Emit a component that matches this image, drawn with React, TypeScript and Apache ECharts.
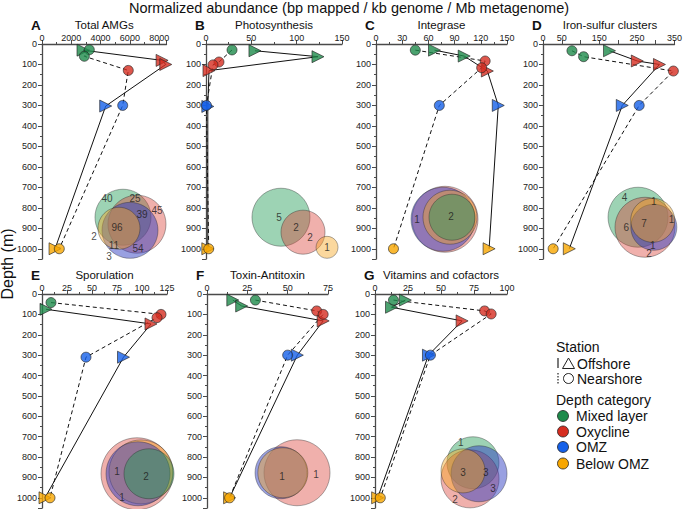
import React, { useEffect, useRef } from 'react';
import * as echarts from 'echarts';

const FONT = '"Liberation Sans", Arial, Helvetica, sans-serif';

// ---------- data ----------
const categories = ['Mixed layer', 'Oxycline', 'OMZ', 'Below OMZ'];
const catColors = ['#1e8b4b', '#d62d20', '#1560e8', '#f7a600'];
const vennColors = ['rgba(31,154,85,0.55)', 'rgba(217,58,48,0.5)', 'rgba(42,56,192,0.6)', 'rgba(245,166,35,0.55)'];

const panelLetters = ['A', 'B', 'C', 'D', 'E', 'F', 'G'];
const panelTitles = ['Total AMGs', 'Photosynthesis', 'Integrase', 'Iron-sulfur clusters', 'Sporulation', 'Toxin-Antitoxin', 'Vitamins and cofactors'];
const axisMax = [8500, 150, 150, 350, 125, 75, 100];
const axisStep = [2000, 50, 30, 50, 25, 25, 25];
const axisLabelsShown = [
  [0, 2000, 4000, 6000, 8000],
  [0, 50, 100, 150],
  [0, 30, 60, 90, 120, 150],
  [0, 50, 150, 250, 350],
  [0, 25, 50, 75, 100, 125],
  [0, 25, 50, 75],
  [0, 25, 50, 75, 100],
];
const depthMax = 1050;
const depthLabels = [0, 100, 200, 300, 400, 500, 600, 700, 800, 900, 1000];

// [value, depth, category]
const offA = [[2800, 30, 0], [8200, 80, 1], [8450, 100, 1], [4350, 303, 2], [890, 1000, 3]];
const nearA = [[3230, 28, 0], [2890, 60, 0], [5890, 129, 1], [5510, 300, 2], [1180, 1000, 3]];
const offB = [[54, 33, 0], [123.5, 62, 0], [3.3, 130, 1], [2, 305, 2], [2, 1000, 3]];
const nearB = [[28.7, 29, 0], [14.3, 88, 1], [7.7, 102, 1], [0.5, 300, 2], [3, 1000, 3]];
const offC = [[67, 30, 0], [101, 59, 0], [127.5, 132, 1], [140, 300, 2], [129.5, 1000, 3]];
const nearC = [[45, 30, 0], [125, 83, 1], [121, 116, 1], [72.5, 300, 2], [20, 1000, 3]];
const offD = [[177, 33, 0], [251, 83, 1], [310, 100, 1], [211, 300, 2], [70, 1000, 3]];
const nearD = [[77, 33, 0], [108, 62, 0], [347, 132, 1], [256, 300, 2], [27, 1000, 3]];
const offE = [[4, 75, 0], [109, 147, 1], [81.5, 310, 2], [3, 1000, 3]];
const nearE = [[9, 42, 0], [119, 100, 1], [115, 116, 1], [44, 310, 2], [8, 1000, 3]];
const offF = [[16, 30, 0], [21.5, 59, 0], [72, 132, 1], [56, 300, 2], [14, 1000, 3]];
const nearF = [[30, 30, 0], [68, 83, 1], [72, 100, 1], [50, 300, 2], [14, 1000, 3]];
const offG = [[23, 30, 0], [12.5, 65, 0], [66, 132, 1], [40.5, 300, 2], [2, 1000, 3]];
const nearG = [[14, 30, 0], [83, 83, 1], [88, 98, 1], [42, 300, 2], [4, 1000, 3]];

// Venn circles: [x, depth, radius(px), category]
const vennA = [[5530, 846, 28, 0], [6485, 880, 29, 1], [6007, 910, 28, 2], [5256, 900, 21, 3]];
const vennLabelsA = [[4437, 753, '40'], [6348, 753, '25'], [7850, 812, '45'], [6826, 831, '39'], [5119, 895, '96'], [3549, 939, '2'], [4915, 983, '11'], [6553, 998, '54'], [4573, 1037, '3']];
const vennB = [[82.7, 846, 29, 0], [107, 919, 22, 1], [133.5, 993, 11, 3]];
const vennLabelsB = [[80.5, 846, '5'], [99.3, 895, '2'], [114.7, 944, '2'], [133.5, 993, '1']];
const vennC = [[79, 856, 33, 1], [76.7, 856, 32, 2], [84.7, 846, 27, 3], [87, 846, 23, 0]];
const vennLabelsC = [[47, 856, '1'], [86, 841, '2']];
const vennD = [[253, 846, 30, 0], [271.5, 895, 30, 1], [295, 895, 23, 2], [292, 861, 22, 3]];
const vennLabelsD = [[217, 748, '4'], [295, 768, '1'], [222, 895, '6'], [269, 875, '7'], [342, 856, '1'], [292, 983, '1'], [282, 1022, '2']];
const vennE = [[95, 882, 36, 1], [99, 873, 32, 3], [96, 882, 32, 2], [107, 882, 25, 0]];
const vennLabelsE = [[75, 873, '1'], [104, 897, '2'], [80, 1000, '1']];
const vennF = [[55.8, 877, 33, 1], [45.9, 877, 26, 2], [47, 877, 25, 3]];
const vennLabelsF = [[46.5, 897, '1'], [67.6, 887, '1']];
const vennG = [[74.2, 828, 26, 0], [72, 907, 29, 1], [78.8, 882, 28, 2], [66.7, 868, 22, 3]];
const vennLabelsG = [[65, 730, '1'], [66.7, 877, '3'], [84, 877, '3'], [89.4, 956, '3'], [60.6, 1010, '2']];

const offshore = [offA, offB, offC, offD, offE, offF, offG];
const nearshore = [nearA, nearB, nearC, nearD, nearE, nearF, nearG];
const venns = [vennA, vennB, vennC, vennD, vennE, vennF, vennG];
const vennLabels = [vennLabelsA, vennLabelsB, vennLabelsC, vennLabelsD, vennLabelsE, vennLabelsF, vennLabelsG];

// ---------- layout ----------
const gridLayout = [
  { left: 42, top: 44, width: 124.5, height: 215 },
  { left: 206, top: 44, width: 136, height: 215 },
  { left: 376, top: 44, width: 131, height: 215 },
  { left: 543, top: 44, width: 134, height: 215 },
  { left: 42, top: 294, width: 125, height: 214 },
  { left: 207, top: 294, width: 121, height: 214 },
  { left: 375, top: 294, width: 132, height: 214 },
];

const AX = '#4a4a4a';

function buildOption() {
  const grid = gridLayout.map((g) => ({ ...g, containLabel: false }));
  const xAxis = gridLayout.map((_, i) => ({
    gridIndex: i,
    type: 'value',
    position: 'top',
    min: 0,
    max: axisMax[i],
    interval: axisStep[i],
    axisLine: { show: true, onZero: false, lineStyle: { color: AX, width: 1.3 } },
    axisTick: { show: true, length: 4, lineStyle: { color: AX, width: 1 } },
    minorTick: { show: i !== 3, splitNumber: 2, length: 2, lineStyle: { color: AX, width: 1 } },
    splitLine: { show: false },
    axisLabel: {
      fontSize: 9,
      color: '#222',
      margin: 2,
      fontFamily: FONT,
      formatter: (v: number) => (axisLabelsShown[i].indexOf(v) >= 0 ? String(v) : ''),
    },
  }));
  const yAxis = gridLayout.map((_, i) => ({
    gridIndex: i,
    type: 'value',
    inverse: true,
    min: 0,
    max: depthMax,
    interval: 100,
    axisLine: { show: true, onZero: false, lineStyle: { color: AX, width: 1.3 } },
    axisTick: { show: true, length: 4, lineStyle: { color: AX, width: 1 } },
    minorTick: { show: true, splitNumber: 2, length: 2, lineStyle: { color: AX, width: 1 } },
    splitLine: { show: false },
    axisLabel: {
      fontSize: 9,
      color: '#222',
      margin: 5,
      fontFamily: FONT,
      formatter: (v: number) => (depthLabels.indexOf(v) >= 0 ? String(v) : ''),
    },
  }));

  const series: any[] = [];
  gridLayout.forEach((_, i) => {
    series.push({
      type: 'scatter',
      xAxisIndex: i,
      yAxisIndex: i,
      silent: true,
      clip: false,
      z: 1,
      data: venns[i].map(([x, d, r, c]) => ({
        value: [x, d],
        symbolSize: 2 * (r as number),
        itemStyle: { color: vennColors[c as number], borderColor: 'rgba(40,40,40,0.7)', borderWidth: 0.7 },
      })),
    });
    series.push({
      type: 'scatter',
      xAxisIndex: i,
      yAxisIndex: i,
      silent: true,
      clip: false,
      z: 2,
      symbolSize: 1,
      itemStyle: { color: 'rgba(0,0,0,0)' },
      label: {
        show: true,
        position: 'inside',
        formatter: (p: any) => p.name,
        fontSize: 10,
        color: '#1a1a1a',
        fontFamily: FONT,
      },
      data: vennLabels[i].map(([x, d, t]) => ({ value: [x, d], name: t })),
    });
    series.push({
      type: 'line',
      xAxisIndex: i,
      yAxisIndex: i,
      silent: true,
      clip: false,
      z: 3,
      symbol: 'none',
      showSymbol: false,
      lineStyle: { color: '#111', width: 1, type: 'solid' },
      data: offshore[i].map((p) => [p[0], p[1]]),
    });
    series.push({
      type: 'line',
      xAxisIndex: i,
      yAxisIndex: i,
      silent: true,
      clip: false,
      z: 3,
      symbol: 'none',
      showSymbol: false,
      lineStyle: { color: '#111', width: 1, type: [4, 3] },
      data: nearshore[i].map((p) => [p[0], p[1]]),
    });
    series.push({
      type: 'scatter',
      xAxisIndex: i,
      yAxisIndex: i,
      silent: true,
      clip: false,
      z: 4,
      symbol: 'triangle',
      symbolRotate: -90,
      symbolSize: 12,
      itemStyle: { borderColor: '#222', borderWidth: 0.8 },
      data: offshore[i].map(([x, d, c]) => ({ value: [x, d], itemStyle: { color: catColors[c] } })),
    });
    series.push({
      type: 'scatter',
      xAxisIndex: i,
      yAxisIndex: i,
      silent: true,
      clip: false,
      z: 5,
      symbol: 'circle',
      symbolSize: 10,
      itemStyle: { borderColor: '#222', borderWidth: 0.8 },
      data: nearshore[i].map(([x, d, c]) => ({ value: [x, d], itemStyle: { color: catColors[c] } })),
    });
  });

  const txt = (text: string, x: number, y: number, font: string, align = 'left', extra: any = {}) => ({
    type: 'text',
    x,
    y,
    silent: true,
    ...extra,
    style: {
      text,
      font,
      fill: '#111',
      align,
      verticalAlign: 'middle',
      textAlign: align,
      textVerticalAlign: 'middle',
    },
  });

  const graphic: any[] = [];
  graphic.push(txt('Normalized abundance (bp mapped / kb genome / Mb metagenome)', 349, 8, `14.5px ${FONT}`, 'center'));
  graphic.push(txt('Depth (m)', 7, 264, `16px ${FONT}`, 'center', { rotation: Math.PI / 2 }));
  gridLayout.forEach((g, i) => {
    const ty = g.top - 19;
    graphic.push(txt(panelLetters[i], g.left - 11, ty, `bold 13.5px ${FONT}`, 'left'));
    graphic.push(txt(panelTitles[i], g.left + g.width / 2, ty, `11.5px ${FONT}`, 'center'));
  });

  // legend
  const lx = 556;
  graphic.push(txt('Station', lx, 347, `14px ${FONT}`));
  graphic.push({ type: 'line', silent: true, shape: { x1: 558, y1: 358, x2: 558, y2: 368 }, style: { stroke: '#222', lineWidth: 1.2 } });
  graphic.push({ type: 'polygon', silent: true, shape: { points: [[562.5, 368.5], [568.5, 358], [574.5, 368.5]] }, style: { fill: 'none', stroke: '#222', lineWidth: 1 } });
  graphic.push(txt('Offshore', 577, 363.5, `14px ${FONT}`));
  graphic.push({ type: 'line', silent: true, shape: { x1: 558, y1: 373, x2: 558, y2: 384 }, style: { stroke: '#222', lineWidth: 1.2, lineDash: [1.5, 1.5] } });
  graphic.push({ type: 'circle', silent: true, shape: { cx: 568.5, cy: 378.5, r: 5 }, style: { fill: 'none', stroke: '#222', lineWidth: 1 } });
  graphic.push(txt('Nearshore', 577, 378.5, `14px ${FONT}`));
  graphic.push(txt('Depth category', lx, 400, `14px ${FONT}`));
  const rowsY = [416, 431.5, 447, 463.5];
  categories.forEach((c, k) => {
    graphic.push({ type: 'circle', silent: true, shape: { cx: 563, cy: rowsY[k], r: 5.5 }, style: { fill: catColors[k], stroke: '#222', lineWidth: 0.8 } });
    graphic.push(txt(c, 576, rowsY[k], `14px ${FONT}`));
  });

  return {
    animation: false,
    backgroundColor: '#ffffff',
    textStyle: { fontFamily: FONT },
    grid,
    xAxis,
    yAxis,
    series,
    graphic,
  };
}

export default function App() {
  const ref = useRef<HTMLDivElement>(null);
  useEffect(() => {
    if (!ref.current) return;
    const chart = echarts.init(ref.current, undefined, { renderer: 'svg' });
    chart.setOption(buildOption() as any);
    return () => chart.dispose();
  }, []);
  return (
    <div
      ref={ref}
      style={{ position: 'fixed', left: 0, top: 0, width: 685, height: 509, background: '#fff' }}
    />
  );
}
